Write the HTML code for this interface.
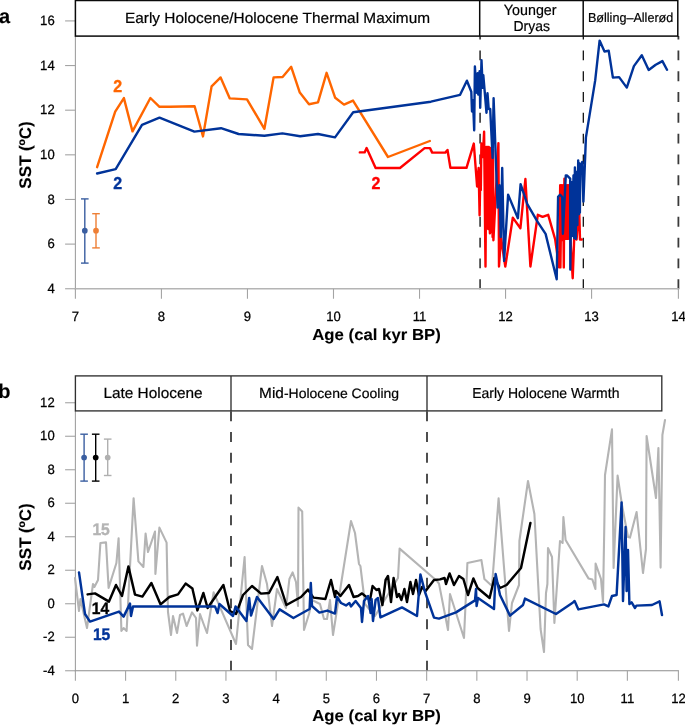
<!DOCTYPE html>
<html lang="en">
<head>
<meta charset="utf-8">
<title>SST records</title>
<style>
html,body{margin:0;padding:0;background:#fff;}
body{width:685px;height:725px;overflow:hidden;}
svg{display:block;font-family:"Liberation Sans",Arial,Helvetica,sans-serif;text-rendering:geometricPrecision;}
.tk{font-size:13.1px;fill:#000;stroke:#000;stroke-width:0.25px;}
.hd{font-size:15.4px;fill:#000;text-anchor:middle;stroke:#000;stroke-width:0.2px;}
.at{font-size:16.75px;font-weight:bold;fill:#000;text-anchor:middle;stroke:#000;stroke-width:0.1px;}
.sl{font-size:16px;font-weight:bold;text-anchor:middle;stroke-width:0.35px;}
.slb{font-size:15.6px;}
.pl{font-size:20px;font-weight:bold;fill:#000;stroke:#000;stroke-width:0.1px;}
.ln1{fill:none;stroke-width:2.45;stroke-linejoin:round;stroke-linecap:round;}
.ln2{fill:none;stroke-width:2.4;stroke-linejoin:round;stroke-linecap:round;}
</style>
</head>
<body>
<svg width="685" height="725" viewBox="0 0 685 725">
<rect width="685" height="725" fill="#fff"/>
<g id="chart-a">
<line x1="480.1" y1="289.15" x2="480.1" y2="36" stroke="#4a4a4a" stroke-width="1.8" stroke-dasharray="9.9 10.9"/>
<line x1="583.3" y1="289.15" x2="583.3" y2="36" stroke="#000" stroke-width="1.2" stroke-dasharray="9.9 10.9"/>
<line x1="678.4" y1="289.15" x2="678.4" y2="36" stroke="#3a3a3a" stroke-width="1.8" stroke-dasharray="9.9 10.9"/>
<g stroke="#a4a4a4" stroke-width="1.1" fill="none">
<line x1="75.4" y1="36" x2="75.4" y2="289.4" stroke="#a0a0a0"/>
<line x1="74.8" y1="288.75" x2="678.9" y2="288.75" stroke="#b4b4b4" stroke-width="1.3"/>
<line x1="65.1" y1="288.75" x2="75.4" y2="288.75"/>
<line x1="65.1" y1="244.11" x2="75.4" y2="244.11"/>
<line x1="65.1" y1="199.47" x2="75.4" y2="199.47"/>
<line x1="65.1" y1="154.83" x2="75.4" y2="154.83"/>
<line x1="65.1" y1="110.19" x2="75.4" y2="110.19"/>
<line x1="65.1" y1="65.55" x2="75.4" y2="65.55"/>
<line x1="65.1" y1="20.91" x2="75.4" y2="20.91"/>
<line x1="75.40" y1="288.75" x2="75.40" y2="298.75"/>
<line x1="161.43" y1="288.75" x2="161.43" y2="298.75"/>
<line x1="247.46" y1="288.75" x2="247.46" y2="298.75"/>
<line x1="333.49" y1="288.75" x2="333.49" y2="298.75"/>
<line x1="419.52" y1="288.75" x2="419.52" y2="298.75"/>
<line x1="505.55" y1="288.75" x2="505.55" y2="298.75"/>
<line x1="591.58" y1="288.75" x2="591.58" y2="298.75"/>
<line x1="678.40" y1="288.75" x2="678.40" y2="298.75"/>
</g>
<g class="tk" text-anchor="end">
<text class="tk" transform="translate(54.70,292.95) scale(1,1.03)">4</text>
<text class="tk" transform="translate(54.70,248.31) scale(1,1.03)">6</text>
<text class="tk" transform="translate(54.70,203.67) scale(1,1.03)">8</text>
<text class="tk" transform="translate(54.70,159.03) scale(1,1.03)">10</text>
<text class="tk" transform="translate(54.70,114.39) scale(1,1.03)">12</text>
<text class="tk" transform="translate(54.70,69.75) scale(1,1.03)">14</text>
<text class="tk" transform="translate(54.70,25.11) scale(1,1.03)">16</text>
</g>
<g class="tk" text-anchor="middle">
<text class="tk" transform="translate(75.40,321.20) scale(1,1.03)">7</text>
<text class="tk" transform="translate(161.43,321.20) scale(1,1.03)">8</text>
<text class="tk" transform="translate(247.46,321.20) scale(1,1.03)">9</text>
<text class="tk" transform="translate(333.49,321.20) scale(1,1.03)">10</text>
<text class="tk" transform="translate(419.52,321.20) scale(1,1.03)">11</text>
<text class="tk" transform="translate(505.55,321.20) scale(1,1.03)">12</text>
<text class="tk" transform="translate(591.58,321.20) scale(1,1.03)">13</text>
<text class="tk" transform="translate(678.60,321.20) scale(1,1.03)">14</text>
</g>
<path d="M97.1,167.2 L115.2,111.7 L123.9,98.1 L132.5,131.4 L150.4,98.0 L159.5,106.8 L170.0,106.8 L194.6,106.2 L203.0,136.4 L211.6,86.4 L220.6,77.4 L229.8,98.4 L247.0,99.4 L264.4,128.8 L273.6,77.4 L282.6,77.0 L291.2,66.8 L299.8,92.6 L309.0,104.2 L318.0,102.4 L326.6,72.8 L335.2,97.8 L344.0,104.6 L353.0,100.6 L388.0,157.0 L429.8,141.0" class="ln2" stroke="#ff6600"/>
<path d="M359.8,152.4 L364.6,152.4 L366.6,148.0 L375.6,168.0 L400.0,168.0 L424.6,148.1 L430.0,148.1 L432.2,152.6 L445.3,152.6 L447.5,150.0 L450.4,167.8 L466.5,167.8 L473.8,143.6 L477.1,186.5 L478.6,168.0 L479.6,215.3 L480.4,170.0 L480.8,190.0 L481.4,143.5 L482.8,157.0 L484.1,131.8 L485.5,266.5 L486.4,147.0 L487.0,226.0 L487.6,147.0 L488.2,229.0 L488.8,147.0 L489.9,233.2 L490.6,148.0 L491.3,232.0 L492.0,150.0 L492.6,237.0 L493.0,150.0 L493.4,240.2 L498.4,143.2 L499.0,266.5 L501.0,237.6 L505.3,266.5 L512.8,217.6 L520.4,228.2 L525.4,179.0 L530.4,266.5 L537.8,214.8 L542.6,216.9 L548.2,214.8 L555.2,239.5 L559.1,267.4 L560.2,185.3 L560.4,267.4 L561.5,185.3 L562.3,240.0 L563.0,185.3 L563.8,267.4 L564.4,178.8 L565.2,238.8 L566.0,185.3 L566.8,238.8 L567.6,185.3 L568.3,238.8 L568.9,185.3 L570.5,240.0 L572.7,278.2 L574.6,228.0 L576.6,239.5 L578.0,222.0 L579.3,214.3 L580.0,239.5 L581.8,239.5" class="ln2" stroke="#ff0000"/>
<path d="M97.1,173.5 L115.7,169.1 L142.0,124.8 L159.5,117.6 L194.4,131.6 L221.0,128.2 L238.6,134.0 L264.4,135.8 L282.4,133.4 L300.2,136.2 L318.0,134.0 L335.0,137.4 L353.2,112.2 L430.9,101.7 L460.1,94.8 L466.9,80.7 L471.3,91.7 L472.0,111.5 L473.0,100.2 L474.2,130.4 L474.9,66.5 L476.4,92.7 L477.7,73.2 L478.3,94.6 L479.6,71.3 L480.2,107.8 L481.5,60.3 L482.7,87.7 L483.3,75.1 L486.5,112.8 L487.5,93.3 L488.7,109.0 L490.2,109.0 L492.6,158.0 L493.6,98.3 L497.6,207.6 L499.4,185.3 L500.8,237.0 L502.2,167.9 L504.1,260.9 L508.1,194.7 L517.9,218.2 L520.6,184.2 L527.3,204.1 L537.3,221.3 L545.6,233.9 L556.7,279.3 L558.1,196.8 L560.0,194.7 L562.2,197.0 L562.9,233.7 L565.8,175.4 L566.9,175.4 L570.2,178.6 L570.3,269.6 L571.3,182.0 L572.2,236.0 L573.5,175.5 L574.2,238.0 L574.9,167.4 L575.7,238.8 L576.6,172.0 L577.4,225.0 L578.2,160.4 L579.0,214.0 L579.6,163.5 L579.9,212.5 L580.2,172.0 L582.2,161.9 L583.4,201.6 L585.9,137.6 L595.2,80.4 L599.6,40.6 L604.5,51.5 L608.7,50.7 L612.9,77.6 L619.1,77.1 L626.8,87.6 L633.9,66.1 L641.8,55.2 L648.7,70.0 L655.7,64.8 L662.4,61.1 L667.0,69.8" class="ln2" stroke="#003399"/>
<g stroke="#3a5ea0" stroke-width="1.4" fill="none"><line x1="84.8" y1="198.9" x2="84.8" y2="263.1"/><line x1="81.0" y1="198.9" x2="88.6" y2="198.9"/><line x1="81.0" y1="263.1" x2="88.6" y2="263.1"/></g><circle cx="84.8" cy="230.7" r="2.85" fill="#3a5ea0"/>
<g stroke="#ee7f35" stroke-width="1.4" fill="none"><line x1="96" y1="213.7" x2="96" y2="247.9"/><line x1="92.2" y1="213.7" x2="99.8" y2="213.7"/><line x1="92.2" y1="247.9" x2="99.8" y2="247.9"/></g><circle cx="96" cy="230.7" r="2.85" fill="#ee7f35"/>
<text class="sl" transform="translate(117.60,91.90) scale(1,1.07)" fill="#ff6600" stroke="#ff6600">2</text>
<text class="sl" transform="translate(117.60,188.60) scale(1,1.07)" fill="#003399" stroke="#003399">2</text>
<text class="sl" transform="translate(376.00,188.60) scale(1,1.07)" fill="#ff0000" stroke="#ff0000">2</text>
<g stroke="#0a0a0a" stroke-width="1.5" fill="#fff">
<rect x="75.4" y="0.5" width="602.4" height="35.6"/>
<line x1="479.7" y1="0.5" x2="479.7" y2="36"/>
<line x1="583.2" y1="0.5" x2="583.2" y2="36"/>
</g>
<text class="hd" transform="translate(277.50,23.40) scale(1,0.97)">Early Holocene/Holocene Thermal Maximum</text>
<text class="hd" transform="translate(530.20,15.10) scale(1,1.04)" style="font-size:14.3px">Younger</text>
<text class="hd" transform="translate(531.70,30.70) scale(1,1.04)" style="font-size:13.9px">Dryas</text>
<text class="hd" transform="translate(630.60,22.10) scale(1,1.03)" style="font-size:12.6px">Bølling–Allerød</text>
<text class="at" transform="translate(376.50,339.80) scale(1,0.955)">Age (cal kyr BP)</text>
<text class="at" transform="translate(31,155) rotate(-90) scale(1.01,1)">SST (ºC)</text>
<text class="pl" transform="translate(-1.00,23.00) scale(1.0,1.0)">a</text>
</g>
<g id="chart-b">
<line x1="231" y1="670.75" x2="231" y2="411" stroke="#303030" stroke-width="1.7" stroke-dasharray="9.9 10.9"/>
<line x1="427" y1="670.75" x2="427" y2="411" stroke="#303030" stroke-width="1.7" stroke-dasharray="9.9 10.9"/>
<g stroke="#a4a4a4" stroke-width="1.1" fill="none">
<line x1="75.4" y1="411" x2="75.4" y2="671.4" stroke="#a0a0a0"/>
<line x1="74.8" y1="670.75" x2="678.9" y2="670.75" stroke="#8c8c8c"/>
<line x1="65.1" y1="670.75" x2="75.4" y2="670.75"/>
<line x1="65.1" y1="637.25" x2="75.4" y2="637.25"/>
<line x1="65.1" y1="603.75" x2="75.4" y2="603.75"/>
<line x1="65.1" y1="570.25" x2="75.4" y2="570.25"/>
<line x1="65.1" y1="536.75" x2="75.4" y2="536.75"/>
<line x1="65.1" y1="503.25" x2="75.4" y2="503.25"/>
<line x1="65.1" y1="469.75" x2="75.4" y2="469.75"/>
<line x1="65.1" y1="436.25" x2="75.4" y2="436.25"/>
<line x1="65.1" y1="402.75" x2="75.4" y2="402.75"/>
<line x1="75.40" y1="670.75" x2="75.40" y2="680.75"/>
<line x1="125.58" y1="670.75" x2="125.58" y2="680.75"/>
<line x1="175.76" y1="670.75" x2="175.76" y2="680.75"/>
<line x1="225.94" y1="670.75" x2="225.94" y2="680.75"/>
<line x1="276.12" y1="670.75" x2="276.12" y2="680.75"/>
<line x1="326.30" y1="670.75" x2="326.30" y2="680.75"/>
<line x1="376.48" y1="670.75" x2="376.48" y2="680.75"/>
<line x1="426.66" y1="670.75" x2="426.66" y2="680.75"/>
<line x1="476.84" y1="670.75" x2="476.84" y2="680.75"/>
<line x1="527.02" y1="670.75" x2="527.02" y2="680.75"/>
<line x1="577.20" y1="670.75" x2="577.20" y2="680.75"/>
<line x1="627.38" y1="670.75" x2="627.38" y2="680.75"/>
<line x1="678.40" y1="670.75" x2="678.40" y2="680.75"/>
</g>
<g class="tk" text-anchor="end">
<text class="tk" transform="translate(54.70,674.95) scale(1,1.03)">-4</text>
<text class="tk" transform="translate(54.70,641.45) scale(1,1.03)">-2</text>
<text class="tk" transform="translate(54.70,607.95) scale(1,1.03)">0</text>
<text class="tk" transform="translate(54.70,574.45) scale(1,1.03)">2</text>
<text class="tk" transform="translate(54.70,540.95) scale(1,1.03)">4</text>
<text class="tk" transform="translate(54.70,507.45) scale(1,1.03)">6</text>
<text class="tk" transform="translate(54.70,473.95) scale(1,1.03)">8</text>
<text class="tk" transform="translate(54.70,440.45) scale(1,1.03)">10</text>
<text class="tk" transform="translate(54.70,406.95) scale(1,1.03)">12</text>
</g>
<g class="tk" text-anchor="middle">
<text class="tk" transform="translate(75.40,702.50) scale(1,1.03)">0</text>
<text class="tk" transform="translate(125.58,702.50) scale(1,1.03)">1</text>
<text class="tk" transform="translate(175.76,702.50) scale(1,1.03)">2</text>
<text class="tk" transform="translate(225.94,702.50) scale(1,1.03)">3</text>
<text class="tk" transform="translate(276.12,702.50) scale(1,1.03)">4</text>
<text class="tk" transform="translate(326.30,702.50) scale(1,1.03)">5</text>
<text class="tk" transform="translate(376.48,702.50) scale(1,1.03)">6</text>
<text class="tk" transform="translate(426.66,702.50) scale(1,1.03)">7</text>
<text class="tk" transform="translate(476.84,702.50) scale(1,1.03)">8</text>
<text class="tk" transform="translate(527.02,702.50) scale(1,1.03)">9</text>
<text class="tk" transform="translate(577.20,702.50) scale(1,1.03)">10</text>
<text class="tk" transform="translate(627.38,702.50) scale(1,1.03)">11</text>
<text class="tk" transform="translate(678.60,702.50) scale(1,1.03)">12</text>
</g>
<path d="M75.0,578.0 L79.0,611.0 L80.4,599.0 L87.0,628.0 L93.0,584.0 L94.4,587.0 L98.0,580.0 L100.4,543.0 L106.0,542.4 L108.6,588.0 L116.4,563.0 L118.6,538.4 L121.4,631.0 L123.6,628.0 L126.6,631.0 L133.6,498.2 L138.4,561.4 L143.4,567.0 L145.6,533.6 L148.0,552.0 L155.0,531.6 L155.4,574.0 L159.4,527.6 L166.6,542.6 L168.0,612.0 L171.0,635.0 L173.0,616.0 L177.0,633.0 L180.0,615.0 L183.0,613.6 L186.6,626.0 L192.0,612.4 L196.0,618.0 L197.0,645.6 L200.0,614.0 L203.6,624.0 L207.0,633.0 L213.6,592.4 L236.0,644.0 L244.6,557.0 L248.0,645.0 L252.0,649.0 L262.0,566.0 L267.0,584.0 L272.0,626.0 L277.0,589.0 L286.0,608.0 L289.4,579.0 L292.6,572.4 L296.0,582.0 L298.0,606.0 L298.5,507.6 L302.2,511.5 L304.0,630.0 L309.0,614.0 L312.0,600.0 L320.0,604.0 L324.0,619.0 L327.0,619.0 L330.0,600.0 L333.0,635.0 L351.0,521.0 L355.0,533.0 L359.0,564.0 L360.4,566.0 L365.0,604.0 L375.0,616.0 L398.0,578.0 L399.6,548.6 L437.0,581.0 L439.0,583.6 L448.0,630.0 L450.0,594.0 L464.0,638.0 L467.4,563.0 L481.4,560.0 L484.4,579.0 L492.0,586.0 L498.6,498.4 L509.0,631.0 L512.0,603.0 L519.0,585.0 L519.4,541.0 L528.0,481.0 L534.4,514.0 L540.6,629.0 L544.0,652.0 L546.0,593.0 L547.4,584.0 L548.0,548.0 L552.0,557.0 L554.4,623.0 L560.0,541.0 L562.6,543.0 L563.4,517.0 L565.6,540.0 L588.6,578.6 L592.4,579.6 L595.4,589.0 L595.6,563.6 L601.0,579.0 L603.0,602.0 L604.4,520.0 L605.0,475.0 L612.0,429.4 L613.6,568.0 L617.6,475.6 L622.0,505.0 L628.0,537.0 L630.0,537.6 L636.6,512.0 L643.0,573.0 L646.0,549.0 L646.6,436.0 L656.0,498.0 L658.4,448.0 L660.6,567.6 L662.4,435.0 L665.0,420.0" class="ln1" stroke="#b4b4b4" style="stroke-width:2.1"/>
<path d="M87.6,594.4 L95.0,593.4 L109.0,601.6 L116.0,585.0 L122.0,596.0 L128.4,566.4 L135.0,594.6 L142.4,596.6 L151.4,583.0 L160.6,604.4 L169.4,597.0 L178.0,594.4 L185.6,583.6 L192.4,588.4 L197.4,610.4 L203.4,593.0 L207.6,608.0 L223.4,585.0 L230.0,611.0 L236.0,614.0 L243.0,595.0 L252.0,586.0 L261.0,593.6 L269.0,593.0 L277.4,577.0 L286.4,605.0 L301.0,597.0 L308.0,589.6 L313.4,597.6 L325.4,599.0 L331.0,580.0 L335.0,597.0 L336.0,591.0 L340.4,596.0 L349.0,585.0 L353.6,597.0 L358.0,596.0 L362.0,593.4 L370.0,600.0 L372.6,586.0 L376.4,590.0 L379.0,589.0 L382.4,605.0 L385.6,580.0 L388.0,576.0 L391.0,602.0 L393.6,578.0 L397.0,597.0 L399.0,594.0 L401.4,600.0 L404.4,589.0 L407.0,602.0 L410.4,582.0 L413.0,594.0 L416.0,580.0 L419.0,595.0 L422.0,587.0 L425.6,591.0 L434.0,580.0 L440.0,579.4 L444.6,578.0 L446.0,584.0 L449.6,573.4 L454.0,585.0 L459.0,576.0 L463.4,579.0 L468.0,595.0 L473.4,578.4 L477.6,588.0 L489.6,598.0 L494.4,578.0 L500.0,588.0 L506.6,585.0 L521.0,568.0 L530.4,523.0" class="ln1" stroke="#000"/>
<path d="M79.0,572.4 L85.0,614.0 L90.0,621.6 L119.0,611.6 L123.6,616.6 L130.0,603.6 L131.0,616.0 L133.0,606.4 L215.0,606.4 L217.6,613.0 L219.4,604.0 L233.0,616.0 L235.6,606.4 L246.4,621.0 L249.2,598.0 L251.0,615.6 L257.0,597.0 L273.6,619.0 L279.6,609.4 L293.4,618.0 L309.6,609.0 L310.8,583.0 L312.0,606.0 L319.4,612.6 L327.4,610.6 L335.0,613.6 L337.0,597.0 L341.0,603.0 L346.0,605.4 L349.4,603.0 L351.0,606.4 L355.6,601.0 L361.0,608.0 L362.0,622.0 L364.0,601.0 L368.0,596.0 L370.6,613.0 L371.6,599.0 L373.0,621.0 L375.6,600.0 L378.0,598.0 L380.4,617.4 L402.0,607.4 L417.0,616.0 L420.4,574.4 L425.0,592.0 L434.0,617.6 L439.0,618.6 L456.0,612.4 L475.0,600.4 L476.0,589.0 L476.6,606.0 L478.0,598.0 L494.0,609.0 L495.6,574.0 L500.0,595.0 L510.0,615.6 L523.0,605.0 L525.0,598.6 L556.0,614.0 L573.0,602.4 L574.6,601.0 L578.4,609.4 L604.0,604.4 L608.4,606.4 L612.0,596.0 L616.6,595.0 L621.6,502.4 L623.0,601.0 L625.6,527.0 L626.6,591.0 L628.0,550.0 L629.4,604.0 L631.6,602.4 L635.0,608.0 L636.4,605.6 L652.0,605.0 L659.6,601.4 L662.0,615.0" class="ln1" stroke="#003399"/>
<g stroke="#3a5ea0" stroke-width="1.4" fill="none"><line x1="84.1" y1="434.2" x2="84.1" y2="481.1"/><line x1="80.3" y1="434.2" x2="87.9" y2="434.2"/><line x1="80.3" y1="481.1" x2="87.9" y2="481.1"/></g><circle cx="84.1" cy="457.5" r="2.85" fill="#3a5ea0"/>
<g stroke="#000" stroke-width="1.4" fill="none"><line x1="95.7" y1="434.2" x2="95.7" y2="481.1"/><line x1="91.9" y1="434.2" x2="99.5" y2="434.2"/><line x1="91.9" y1="481.1" x2="99.5" y2="481.1"/></g><circle cx="95.7" cy="457.5" r="2.85" fill="#000"/>
<g stroke="#b0b0b0" stroke-width="1.4" fill="none"><line x1="107.7" y1="439.1" x2="107.7" y2="475.5"/><line x1="103.9" y1="439.1" x2="111.5" y2="439.1"/><line x1="103.9" y1="475.5" x2="111.5" y2="475.5"/></g><circle cx="107.7" cy="457.5" r="2.85" fill="#b0b0b0"/>
<text class="sl slb" transform="translate(101.10,534.90) scale(1,1.08)" fill="#b4b4b4" stroke="#b4b4b4">15</text>
<text class="sl slb" transform="translate(100.50,613.80) scale(1,1.08)" fill="#000" stroke="#000">14</text>
<text class="sl slb" transform="translate(101.60,639.80) scale(1,1.08)" fill="#003399" stroke="#003399">15</text>
<g stroke="#303030" stroke-width="1.35" fill="#fff">
<rect x="75.4" y="375.9" width="586.4" height="35"/>
<line x1="231" y1="375.9" x2="231" y2="410.9"/>
<line x1="427" y1="375.9" x2="427" y2="410.9"/>
</g>
<text class="hd" transform="translate(153.00,398.30) scale(1,0.97)">Late Holocene</text>
<text class="hd" transform="translate(329.10,398.30) scale(1,0.97)">Mid<tspan style="font-size:14px">-Holocene Cooling</tspan></text>
<text class="hd" transform="translate(545.80,398.30) scale(1,1.03)" style="font-size:14px">Early Holocene Warmth</text>
<text class="at" transform="translate(376.50,721.00) scale(1,0.955)">Age (cal kyr BP)</text>
<text class="at" transform="translate(31,537) rotate(-90) scale(1.01,1)">SST (ºC)</text>
<text class="pl" transform="translate(-1.70,398.40) scale(1.0,1.0)">b</text>
</g>
</svg>
</body>
</html>
